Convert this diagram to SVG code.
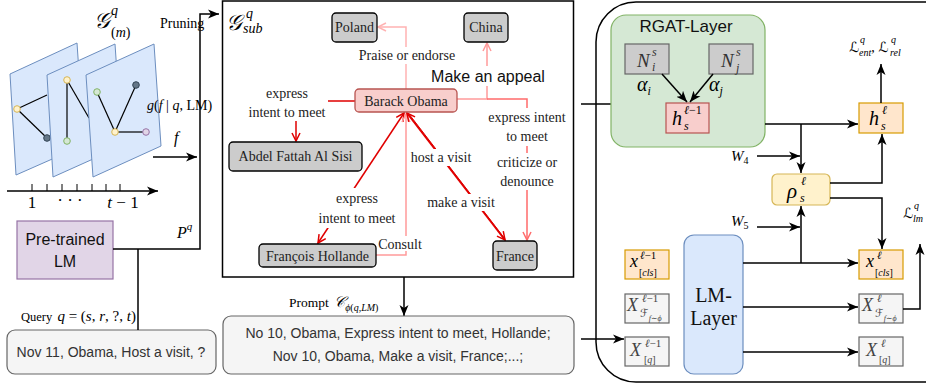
<svg xmlns="http://www.w3.org/2000/svg" width="926" height="385" viewBox="0 0 926 385">
<defs>
<style>
.sans{font-family:"Liberation Sans",Arial,sans-serif}
.serif{font-family:"Liberation Serif","Times New Roman",serif}
.m{font-family:"Liberation Serif","DejaVu Serif",serif;font-style:italic}
.mr{font-family:"Liberation Serif","DejaVu Serif",serif}
.scr{font-family:"DejaVu Serif","DejaVu Sans","Liberation Serif",serif}
.ln{fill:none;stroke:#000;stroke-width:1.5}
.plane{fill:#dae8fc;stroke:#6c8ebf;stroke-width:1}
.ent{fill:#cccccc;stroke:#000;stroke-width:1.3}
.lbl{font-family:"Liberation Serif","Times New Roman",serif;font-size:14px;fill:#222;text-anchor:middle}
.bg{fill:#fff}
.gray{fill:#f5f5f5;stroke:#666;stroke-width:1.2}
.org{fill:#ffe6cc;stroke:#d79b00;stroke-width:1.2}
.nd{stroke-width:1}
.n{font-style:normal}
.i{font-style:italic}
</style>
<marker id="ab" markerUnits="userSpaceOnUse" markerWidth="12" markerHeight="10" refX="11" refY="5" orient="auto"><path d="M0,0.5 L11,5 L0,9.5 L3,5 Z" fill="#000"/></marker>
<marker id="or" markerUnits="userSpaceOnUse" markerWidth="12" markerHeight="12" refX="9" refY="5" orient="auto-start-reverse"><path d="M1,1 L9,5 L1,9" fill="none" stroke="#e00000" stroke-width="1.5"/></marker>
<marker id="op" markerUnits="userSpaceOnUse" markerWidth="12" markerHeight="12" refX="9" refY="5" orient="auto"><path d="M1,1 L9,5 L1,9" fill="none" stroke="#ffb3b3" stroke-width="1.5"/></marker>
<marker id="op2" markerUnits="userSpaceOnUse" markerWidth="12" markerHeight="12" refX="9" refY="5" orient="auto"><path d="M1,1 L9,5 L1,9" fill="none" stroke="#ff9a9a" stroke-width="1.5"/></marker>
<marker id="op3" markerUnits="userSpaceOnUse" markerWidth="12" markerHeight="12" refX="9" refY="5" orient="auto"><path d="M1,1 L9,5 L1,9" fill="none" stroke="#ff6b6b" stroke-width="1.5"/></marker>
</defs>
<rect width="926" height="385" fill="#fff"/>

<!-- LEFT PANEL: temporal graphs -->
<g id="temporal-graphs">
  <text class="scr" x="94" y="28" font-size="22" font-style="italic">𝒢<tspan class="mr i" x="111" dy="-13" font-size="14">q</tspan><tspan class="mr n" x="111" dy="22" font-size="14">(<tspan class="i">m</tspan>)</tspan></text>
  <polygon class="plane" points="10,74 77,43 84,145 16,175"/>
  <line x1="17" y1="109" x2="47" y2="95" stroke="#000" stroke-width="1.2"/>
  <line x1="17" y1="109" x2="47" y2="138" stroke="#000" stroke-width="1.2"/>
  <circle class="nd" cx="17" cy="109" r="3.3" fill="#fff2cc" stroke="#d6b656"/>
  <circle class="nd" cx="47" cy="138" r="3.3" fill="#647687" stroke="#314354"/>
  <polygon class="plane" points="47,75 115,44 122,146 53,177"/>
  <line x1="67" y1="80" x2="67" y2="141" stroke="#000" stroke-width="1.2"/>
  <line x1="67" y1="80" x2="89" y2="118" stroke="#000" stroke-width="1.2"/>
  <circle class="nd" cx="67" cy="80" r="3.3" fill="#fff2cc" stroke="#d6b656"/>
  <circle class="nd" cx="67" cy="141" r="3.3" fill="#d5e8d4" stroke="#82b366"/>
  <polygon class="plane" points="86,75 154,44 161,146 93,177"/>
  <line x1="97" y1="92" x2="115" y2="132" stroke="#000" stroke-width="1.2"/>
  <line x1="115" y1="132" x2="136" y2="85" stroke="#000" stroke-width="1.2"/>
  <line x1="115" y1="132" x2="146" y2="132" stroke="#000" stroke-width="1.2"/>
  <circle class="nd" cx="97" cy="92" r="3.3" fill="#d5e8d4" stroke="#82b366"/>
  <circle class="nd" cx="136" cy="85" r="3.3" fill="#647687" stroke="#314354"/>
  <circle class="nd" cx="115" cy="132" r="3.3" fill="#fff2cc" stroke="#d6b656"/>
  <circle class="nd" cx="146" cy="132" r="3.3" fill="#e1d5e7" stroke="#9673a6"/>
</g>

<g id="timeline">
  <line x1="7" y1="191" x2="158" y2="191" stroke="#000" stroke-width="1.5" marker-end="url(#ab)"/>
  <path d="M32,184V191M47,184V191M62,184V191M77,184V191M92,184V191M106,184V191M120,184V191" stroke="#000" stroke-width="1"/>
  <text class="mr" x="32" y="208" font-size="17" text-anchor="middle">1</text>
  <text class="mr" x="70" y="206" font-size="17" text-anchor="middle">· · ·</text>
  <text class="mr" x="123" y="208" font-size="17" text-anchor="middle"><tspan class="i">t</tspan> − 1</text>
</g>

<g id="pretrained-lm">
  <rect x="17" y="221" width="96" height="58" fill="#e1d5e7" stroke="#9673a6" stroke-width="1.2"/>
  <text class="sans" x="65" y="245" font-size="16" text-anchor="middle" fill="#111">Pre-trained</text>
  <text class="sans" x="65" y="267" font-size="16" text-anchor="middle" fill="#111">LM</text>
</g>

<g id="query">
  <text class="serif" x="21" y="321" font-size="12.5">Query <tspan class="mr" font-size="15" dx="2"><tspan class="i">q</tspan> = (<tspan class="i">s</tspan>, <tspan class="i">r</tspan>, ?, <tspan class="i">t</tspan>)</tspan></text>
  <rect class="gray" x="7" y="330" width="209" height="44" rx="8"/>
  <text class="sans" x="111" y="357" font-size="14" text-anchor="middle" fill="#333">Nov 11, Obama, Host a visit, ?</text>
</g>

<g id="connectors">
  <path class="ln" d="M113,249 H200 V14 H219" marker-end="url(#ab)"/>
  <path class="ln" d="M138,330 V249"/>
  <path class="ln" d="M153,157 H197" marker-end="url(#ab)"/>
  <path class="ln" d="M404,277 V316" marker-end="url(#ab)"/>
  <path class="ln" d="M581,104 H623" marker-end="url(#ab)"/>
  <path class="ln" d="M581,339 H624" marker-end="url(#ab)"/>
</g>
<g id="left-labels">
  <text class="serif" x="160" y="28" font-size="14">Pruning</text>
  <text class="mr" x="147" y="110" font-size="14"><tspan class="i">g</tspan>(<tspan class="i">f</tspan> | <tspan class="i">q</tspan>, LM)</text>
  <text class="m" x="174" y="143" font-size="16">f</text>
  <text class="m" x="177" y="238" font-size="16">P<tspan dy="-8" font-size="11">q</tspan></text>
</g>

<!-- MIDDLE: subgraph -->
<g id="subgraph-frame">
  <rect x="222.5" y="1" width="351" height="276" fill="#fff" stroke="#000" stroke-width="1.5"/>
  <text class="scr" x="226" y="30" font-size="22" font-style="italic">𝒢<tspan class="mr i" x="246" dy="-12" font-size="14">q</tspan><tspan class="mr i" x="243" dy="15" font-size="14">sub</tspan></text>
</g>

<g id="subgraph-edges">
  <path d="M406,89 V27 H378" fill="none" stroke="#ffb3b3" stroke-width="1.5" marker-end="url(#op)"/>
  <path d="M457,99 H487 V43" fill="none" stroke="#ff9a9a" stroke-width="1.5" marker-end="url(#op2)"/>
  <path d="M487,99 H527 V240" fill="none" stroke="#ff6b6b" stroke-width="1.5" marker-end="url(#op3)"/>
  <path d="M355,101 H296 V141" fill="none" stroke="#e00000" stroke-width="1.5" marker-end="url(#or)"/>
  <path d="M404,113 L318,243" fill="none" stroke="#e00000" stroke-width="1.5" marker-start="url(#or)" marker-end="url(#or)"/>
  <path d="M376,255 H406 V114" fill="none" stroke="#ff9a9a" stroke-width="1.5" marker-end="url(#op2)"/>
  <path d="M407,113 L505,240" fill="none" stroke="#e00000" stroke-width="2" marker-start="url(#or)" marker-end="url(#or)"/>
  <path d="M409,114 L505,239" fill="none" stroke="#e00000" stroke-width="1"/>
</g>

<g id="subgraph-edge-labels">
  <rect class="bg" x="354" y="47" width="106" height="17"/>
  <text class="lbl" x="407" y="60">Praise or endorse</text>
  <rect class="bg" x="430" y="66" width="116" height="20"/>
  <text class="sans" x="488" y="82" font-size="16" text-anchor="middle" fill="#111">Make an appeal</text>
  <rect class="bg" x="486" y="108" width="82" height="38"/>
  <text class="lbl" x="527" y="122">express intent</text>
  <text class="lbl" x="527" y="141">to meet</text>
  <rect class="bg" x="492" y="153" width="70" height="37"/>
  <text class="lbl" x="527" y="167">criticize or</text>
  <text class="lbl" x="527" y="186">denounce</text>
  <rect class="bg" x="246" y="84" width="82" height="37"/>
  <text class="lbl" x="287" y="98">express</text>
  <text class="lbl" x="287" y="117">intent to meet</text>
  <rect class="bg" x="316" y="188" width="82" height="40"/>
  <text class="lbl" x="357" y="203">express</text>
  <text class="lbl" x="357" y="223">intent to meet</text>
  <rect class="bg" x="410" y="149" width="63" height="17"/>
  <text class="lbl" x="441" y="162">host a visit</text>
  <rect class="bg" x="426" y="194" width="70" height="17"/>
  <text class="lbl" x="461" y="207">make a visit</text>
  <rect class="bg" x="378" y="236" width="45" height="15"/>
  <text class="lbl" x="400" y="249">Consult</text>
</g>

<g id="node-poland"><rect class="ent" x="332" y="13" width="45" height="29" rx="4"/><text class="lbl" x="354.5" y="32" font-size="15">Poland</text></g>
<g id="node-china"><rect class="ent" x="464" y="13" width="44" height="29" rx="4"/><text class="lbl" x="486" y="32" font-size="15">China</text></g>
<g id="node-obama"><rect x="355" y="89" width="102" height="23" rx="4" fill="#f8cecc" stroke="#b85450" stroke-width="1.3"/><text class="lbl" x="406" y="106" font-size="15">Barack Obama</text></g>
<g id="node-sisi"><rect class="ent" x="229" y="142" width="133" height="29" rx="4"/><text class="lbl" x="295.5" y="161" font-size="15" fill="#555">Abdel Fattah Al Sisi</text></g>
<g id="node-hollande"><rect class="ent" x="259" y="244" width="117" height="23" rx="4"/><text class="lbl" x="317.5" y="261" font-size="15">François Hollande</text></g>
<g id="node-france"><rect class="ent" x="493" y="241" width="44" height="29" rx="4"/><text class="lbl" x="515" y="261" font-size="15">France</text></g>

<g id="prompt">
  <text class="serif" x="289" y="307" font-size="13.5">Prompt <tspan class="scr i" font-size="15" dx="2">𝒞</tspan><tspan class="mr" font-size="10" dy="4"><tspan class="i">ϕ</tspan>(<tspan class="i">q</tspan>,<tspan class="i">LM</tspan>)</tspan></text>
  <rect class="gray" x="223" y="316" width="351" height="58" rx="8"/>
  <text class="sans" x="398" y="338" font-size="14" text-anchor="middle" fill="#333">No 10, Obama, Express intent to meet, Hollande;</text>
  <text class="sans" x="398" y="361" font-size="14" text-anchor="middle" fill="#333">Nov 10, Obama, Make a visit, France;...;</text>
</g>

<!-- RIGHT PANEL -->
<g id="model-frame">
  <rect x="596" y="2" width="400" height="380" rx="40" fill="none" stroke="#000" stroke-width="1.5"/>
</g>
<g id="rgat-layer">
  <rect x="611" y="15" width="154" height="132" rx="15" fill="#d5e8d4" stroke="#82b366" stroke-width="1.2"/>
  <text class="sans" x="686" y="32" font-size="17" text-anchor="middle" fill="#111">RGAT-Layer</text>
</g>
<g id="node-ni">
  <rect x="625" y="44" width="44" height="30" fill="#cccccc" stroke="#666" stroke-width="1.2"/>
  <text class="m" x="637" y="67" font-size="19" fill="#333">N<tspan x="652" dy="-11" font-size="12">s</tspan><tspan x="652" dy="15" font-size="12">i</tspan></text>
</g>
<g id="node-nj">
  <rect x="709" y="44" width="44" height="30" fill="#cccccc" stroke="#666" stroke-width="1.2"/>
  <text class="m" x="721" y="67" font-size="19" fill="#333">N<tspan x="736" dy="-11" font-size="12">s</tspan><tspan x="736" dy="16" font-size="12">j</tspan></text>
</g>
<g id="alpha-labels">
  <text class="m" x="637" y="91" font-size="20">α<tspan dy="4" font-size="12">i</tspan></text>
  <text class="m" x="709" y="91" font-size="20">α<tspan dy="4" font-size="12">j</tspan></text>
</g>
<g id="node-hs-prev">
  <rect x="666" y="103" width="43" height="30" fill="#f8cecc" stroke="#b85450" stroke-width="1.2"/>
  <text class="m" x="672" y="125" font-size="20">h<tspan x="684" dy="-11" font-size="12">ℓ<tspan class="n">−1</tspan></tspan><tspan x="684" dy="16" font-size="12">s</tspan></text>
</g>
<g id="node-hs">
  <rect class="org" x="859" y="103" width="44" height="30"/>
  <text class="m" x="869" y="125" font-size="20">h<tspan x="882" dy="-11" font-size="12">ℓ</tspan><tspan x="881" dy="16" font-size="12">s</tspan></text>
</g>
<g id="node-rho">
  <rect x="772" y="174" width="58" height="31" rx="5" fill="#fff2cc" stroke="#d6b656" stroke-width="1.2"/>
  <text class="m" x="787" y="198" font-size="21">ρ<tspan x="801" dy="-13" font-size="12">ℓ</tspan><tspan x="800" dy="17" font-size="12">s</tspan></text>
</g>
<g id="node-lm-layer">
  <rect x="684" y="235" width="59" height="139" rx="10" fill="#dae8fc" stroke="#6c8ebf" stroke-width="1.2"/>
  <text class="serif" x="713.5" y="302" font-size="20" text-anchor="middle" fill="#111">LM-</text>
  <text class="serif" x="713.5" y="325" font-size="20" text-anchor="middle" fill="#111">Layer</text>
</g>
<g id="node-xcls-prev">
  <rect class="org" x="625" y="250" width="44" height="29"/>
  <text class="m" x="630" y="267" font-size="18">x<tspan x="640" dy="-8" font-size="11">ℓ<tspan class="n">−1</tspan></tspan><tspan class="n" x="639" dy="17" font-size="10">[<tspan class="i">cls</tspan>]</tspan></text>
</g>
<g id="node-xf-prev">
  <rect class="gray" x="625" y="294" width="44" height="29"/>
  <text class="m" x="627" y="311" font-size="18" fill="#444">X<tspan x="642" dy="-9" font-size="11">ℓ<tspan class="n">−1</tspan></tspan><tspan class="scr" x="640" dy="15" font-size="11">ℱ</tspan><tspan dy="4" font-size="8">f∼ϕ</tspan></text>
</g>
<g id="node-xq-prev">
  <rect class="gray" x="625" y="337" width="44" height="29"/>
  <text class="m" x="630" y="356" font-size="18" fill="#444">X<tspan x="645" dy="-9" font-size="11">ℓ<tspan class="n">−1</tspan></tspan><tspan class="n" x="644" dy="16" font-size="10">[<tspan class="i">q</tspan>]</tspan></text>
</g>
<g id="node-xcls">
  <rect class="org" x="859" y="250" width="44" height="29"/>
  <text class="m" x="866" y="267" font-size="18">x<tspan x="877" dy="-8" font-size="11">ℓ</tspan><tspan class="n" x="875" dy="17" font-size="10">[<tspan class="i">cls</tspan>]</tspan></text>
</g>
<g id="node-xf">
  <rect class="gray" x="859" y="294" width="44" height="29"/>
  <text class="m" x="862" y="311" font-size="18" fill="#444">X<tspan x="877" dy="-9" font-size="11">ℓ</tspan><tspan class="scr" x="875" dy="15" font-size="11">ℱ</tspan><tspan dy="4" font-size="8">f∼ϕ</tspan></text>
</g>
<g id="node-xq">
  <rect class="gray" x="859" y="337" width="44" height="29"/>
  <text class="m" x="866" y="356" font-size="18" fill="#444">X<tspan x="881" dy="-9" font-size="11">ℓ</tspan><tspan class="n" x="879" dy="16" font-size="10">[<tspan class="i">q</tspan>]</tspan></text>
</g>

<g id="model-connectors">
  <path class="ln" d="M662,74 L687,102" marker-end="url(#ab)"/>
  <path class="ln" d="M713,74 L690,102" marker-end="url(#ab)"/>
  <path class="ln" d="M765,124 H858" marker-end="url(#ab)"/>
  <path class="ln" d="M801,124 V173" marker-end="url(#ab)"/>
  <path class="ln" d="M757,156 H800" marker-end="url(#ab)"/>
  <path class="ln" d="M830,183 H882 V134" marker-end="url(#ab)"/>
  <path class="ln" d="M830,198 H882 V249" marker-end="url(#ab)"/>
  <path class="ln" d="M881,103 V64" marker-end="url(#ab)"/>
  <path class="ln" d="M743,263 H858" marker-end="url(#ab)"/>
  <path class="ln" d="M801,263 V206" marker-end="url(#ab)"/>
  <path class="ln" d="M757,227 H800" marker-end="url(#ab)"/>
  <path class="ln" d="M743,307 H858" marker-end="url(#ab)"/>
  <path class="ln" d="M743,352 H858" marker-end="url(#ab)"/>
  <path class="ln" d="M903,309 H920 V244" marker-end="url(#ab)"/>
</g>
<g id="model-labels">
  <text class="m" x="731" y="161" font-size="15">W<tspan class="n" dy="3" font-size="10">4</tspan></text>
  <text class="m" x="731" y="226" font-size="15">W<tspan class="n" dy="3" font-size="10">5</tspan></text>
  <text class="scr i" x="849" y="52" font-size="14">ℒ<tspan class="mr" x="860" dy="-9" font-size="10">q</tspan><tspan class="mr" x="859" dy="13" font-size="10">ent</tspan><tspan class="mr n" dy="-4" font-size="14">, </tspan><tspan>ℒ</tspan><tspan class="mr" x="891" dy="-9" font-size="10">q</tspan><tspan class="mr" x="890" dy="13" font-size="10">rel</tspan></text>
  <text class="scr i" x="903" y="218" font-size="14">ℒ<tspan class="mr" x="914" dy="-9" font-size="10">q</tspan><tspan class="mr" x="913" dy="13" font-size="10">lm</tspan></text>
</g>
</svg>
